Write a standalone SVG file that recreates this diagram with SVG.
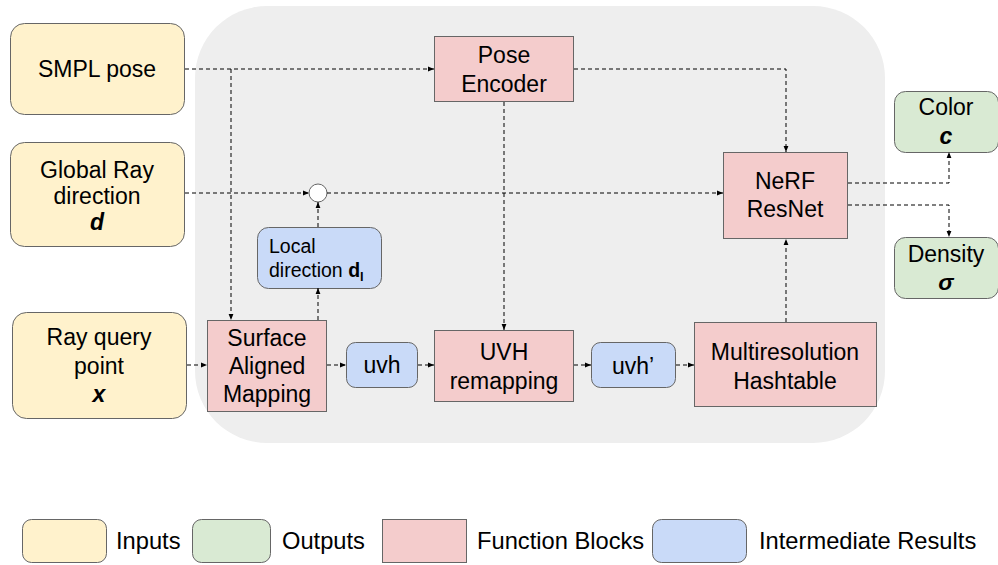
<svg xmlns="http://www.w3.org/2000/svg" width="998" height="565" viewBox="0 0 998 565">
  <defs>
    <marker id="arrow" viewBox="0 0 10 10" refX="10" refY="5" markerWidth="6" markerHeight="6" markerUnits="userSpaceOnUse" orient="auto">
      <path d="M0,1 L10,5 L0,9 Z" fill="#000"/>
    </marker>
    <style>
      text { font-family: "Liberation Sans", Arial, sans-serif; fill: #000; }
      .lbl { font-size: 23px; text-anchor: middle; dominant-baseline: central; }
      .small { font-size: 19.5px; dominant-baseline: central; }
      .leg { font-size: 23.7px; dominant-baseline: central; }
      .it { font-weight: bold; font-style: italic; }
      .input { fill: #fff2cc; stroke: #666; stroke-width: 1; }
      .output { fill: #d9ead3; stroke: #666; stroke-width: 1; }
      .func { fill: #f4cccc; stroke: #666; stroke-width: 1; }
      .inter { fill: #c9daf8; stroke: #666; stroke-width: 1; }
      .conn path { fill: none; stroke: #000; stroke-width: 1; stroke-dasharray: 4 3; marker-end: url(#arrow); }
    </style>
  </defs>

  <!-- backdrop of the processing stage -->
  <rect x="195" y="6" width="690" height="437" rx="72" ry="72" fill="#eeeeee"/>

  <!-- inputs -->
  <g id="smpl-pose">
    <rect class="input" x="10.5" y="23.5" width="174" height="91" rx="14"/>
    <text class="lbl" x="97" y="69">SMPL pose</text>
  </g>
  <g id="global-ray-direction">
    <rect class="input" x="10.5" y="142.5" width="174" height="104" rx="14"/>
    <text class="lbl" x="97" y="170">Global Ray</text>
    <text class="lbl" x="97" y="196">direction</text>
    <text class="lbl it" x="97" y="222">d</text>
  </g>
  <g id="ray-query-point">
    <rect class="input" x="12.5" y="312.5" width="174" height="106" rx="14"/>
    <text class="lbl" x="99" y="337">Ray query</text>
    <text class="lbl" x="99" y="366">point</text>
    <text class="lbl it" x="99" y="394">x</text>
  </g>

  <!-- function blocks -->
  <g id="pose-encoder">
    <rect class="func" x="434.5" y="36.5" width="139" height="65"/>
    <text class="lbl" x="504" y="55">Pose</text>
    <text class="lbl" x="504" y="84">Encoder</text>
  </g>
  <g id="nerf-resnet">
    <rect class="func" x="723.5" y="152.5" width="124" height="86"/>
    <text class="lbl" x="785" y="181">NeRF</text>
    <text class="lbl" x="785" y="209">ResNet</text>
  </g>
  <g id="surface-aligned-mapping">
    <rect class="func" x="207.5" y="320.5" width="119" height="91"/>
    <text class="lbl" x="267" y="338">Surface</text>
    <text class="lbl" x="267" y="366">Aligned</text>
    <text class="lbl" x="267" y="394">Mapping</text>
  </g>
  <g id="uvh-remapping">
    <rect class="func" x="434.5" y="330.5" width="139" height="71"/>
    <text class="lbl" x="504" y="352">UVH</text>
    <text class="lbl" x="504" y="381">remapping</text>
  </g>
  <g id="multiresolution-hashtable">
    <rect class="func" x="694.5" y="322.5" width="182" height="84"/>
    <text class="lbl" x="785" y="352">Multiresolution</text>
    <text class="lbl" x="785" y="381">Hashtable</text>
  </g>

  <!-- intermediate results -->
  <g id="local-direction">
    <rect class="inter" x="257.5" y="227.5" width="124" height="61" rx="11"/>
    <text class="small" x="269" y="246">Local</text>
    <text class="small" x="269" y="270">direction <tspan font-weight="bold">d</tspan><tspan font-weight="bold" font-size="13" dy="6">l</tspan></text>
  </g>
  <g id="uvh">
    <rect class="inter" x="346.5" y="342.5" width="71" height="45" rx="9"/>
    <text class="lbl" x="382" y="365">uvh</text>
  </g>
  <g id="uvh-prime">
    <rect class="inter" x="591.5" y="342.5" width="84" height="45" rx="9"/>
    <text class="lbl" x="633" y="366">uvh’</text>
  </g>

  <!-- combine node -->
  <g id="combine">
    <circle cx="318" cy="193" r="9" fill="#fff" stroke="#666" stroke-width="1"/>
  </g>

  <!-- outputs -->
  <g id="color">
    <rect class="output" x="894.5" y="91.5" width="104" height="61" rx="11"/>
    <text class="lbl" x="946" y="107">Color</text>
    <text class="lbl it" x="946" y="136">c</text>
  </g>
  <g id="density">
    <rect class="output" x="894.5" y="237.5" width="104" height="61" rx="11"/>
    <text class="lbl" x="946" y="254">Density</text>
    <text class="lbl it" x="946" y="282">σ</text>
  </g>

  <!-- connectors -->
  <g id="connectors" class="conn">
    <path d="M185,69 H434"/>
    <path d="M231,69 V320"/>
    <path d="M574,69 H786 V152"/>
    <path d="M504,102 V330"/>
    <path d="M185,193 H309"/>
    <path d="M327,193 H723"/>
    <path d="M318,227 V202"/>
    <path d="M318,320 V288"/>
    <path d="M187,365 H207"/>
    <path d="M327,365 H346"/>
    <path d="M418,365 H434"/>
    <path d="M574,365 H591"/>
    <path d="M676,365 H694"/>
    <path d="M786,322 V239"/>
    <path d="M848,183 H949 V152"/>
    <path d="M848,205 H949 V237"/>
  </g>

  <!-- legend -->
  <g id="legend">
    <rect class="input" x="22.5" y="519.5" width="84" height="43" rx="9"/>
    <text class="leg" x="116" y="541">Inputs</text>
    <rect class="output" x="192.5" y="519.5" width="78" height="43" rx="9"/>
    <text class="leg" x="282" y="541">Outputs</text>
    <rect class="func" x="382.5" y="519.5" width="84" height="43"/>
    <text class="leg" x="477" y="541">Function Blocks</text>
    <rect class="inter" x="652.5" y="519.5" width="94" height="43" rx="9"/>
    <text class="leg" x="759" y="541">Intermediate Results</text>
  </g>
</svg>
